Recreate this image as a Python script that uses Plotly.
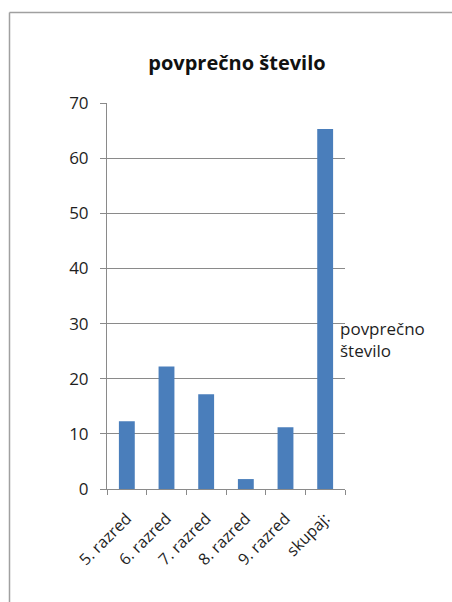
import plotly.graph_objects as go

# Data
categories = ["5. razred", "6. razred", "7. razred", "8. razred", "9. razred", "skupaj:"]
values = [12.3, 22.2, 17.2, 1.8, 11.2, 65.3]
series_name = "povprečno število"
y_ticks = [0, 10, 20, 30, 40, 50, 60, 70]

W, H = 452, 602
ML, MR, MT, MB = 107, 107, 103, 113
plot_w = W - ML - MR
plot_h = H - MT - MB


def px_x(x):
    return (x - ML) / plot_w


def px_y(y):
    return (H - MB - y) / plot_h


FONT = "Open Sans, Noto Sans, sans-serif"
GRID = "#8a8a8a"
TEXT = "#1e1e1e"

fig = go.Figure(
    go.Bar(
        x=categories,
        y=values,
        name=series_name,
        marker=dict(color="#4A7EBB", line=dict(width=0)),
        showlegend=False,
    )
)

fig.update_layout(
    width=W,
    height=H,
    margin=dict(l=ML, r=MR, t=MT, b=MB),
    paper_bgcolor="white",
    plot_bgcolor="white",
    bargap=0.6,
    font=dict(family=FONT, size=16, color=TEXT),
    title=dict(
        text="<b>povprečno število</b>",
        x=px_x(237), xref="paper", xanchor="center",
        y=1 - 63 / H, yanchor="middle",
        font=dict(family=FONT, size=20, color="#111"),
    ),
    xaxis=dict(
        type="category",
        tickangle=-45,
        tickson="boundaries",
        ticks="outside",
        ticklen=5,
        tickcolor=GRID,
        ticklabelstandoff=13,
        showline=True,
        linecolor=GRID,
        showgrid=False,
        tickfont=dict(family=FONT, size=16, color=TEXT),
    ),
    yaxis=dict(
        range=[0, 70],
        tickvals=y_ticks,
        ticks="outside",
        ticklen=6,
        tickcolor=GRID,
        ticklabelstandoff=8,
        showline=True,
        linecolor=GRID,
        showgrid=True,
        gridcolor=GRID,
        gridwidth=1,
        zeroline=False,
        tickfont=dict(family=FONT, size=17, color=TEXT),
    ),
    annotations=[
        dict(
            text="povprečno<br>število",
            xref="paper", yref="paper",
            x=px_x(338), y=px_y(339),
            xanchor="left", yanchor="middle", align="left",
            showarrow=False,
            font=dict(family=FONT, size=17, color=TEXT),
        )
    ],
    shapes=[
        # outer chart frame (top and left edges visible)
        dict(type="line", xref="paper", yref="paper",
             x0=px_x(9.5), x1=px_x(W), y0=px_y(12.5), y1=px_y(12.5),
             line=dict(color="#a0a0a0", width=1.5)),
        dict(type="line", xref="paper", yref="paper",
             x0=px_x(9.5), x1=px_x(9.5), y0=px_y(12.5), y1=px_y(H),
             line=dict(color="#a0a0a0", width=1.5)),
    ],
)

fig.write_html("out.html")
